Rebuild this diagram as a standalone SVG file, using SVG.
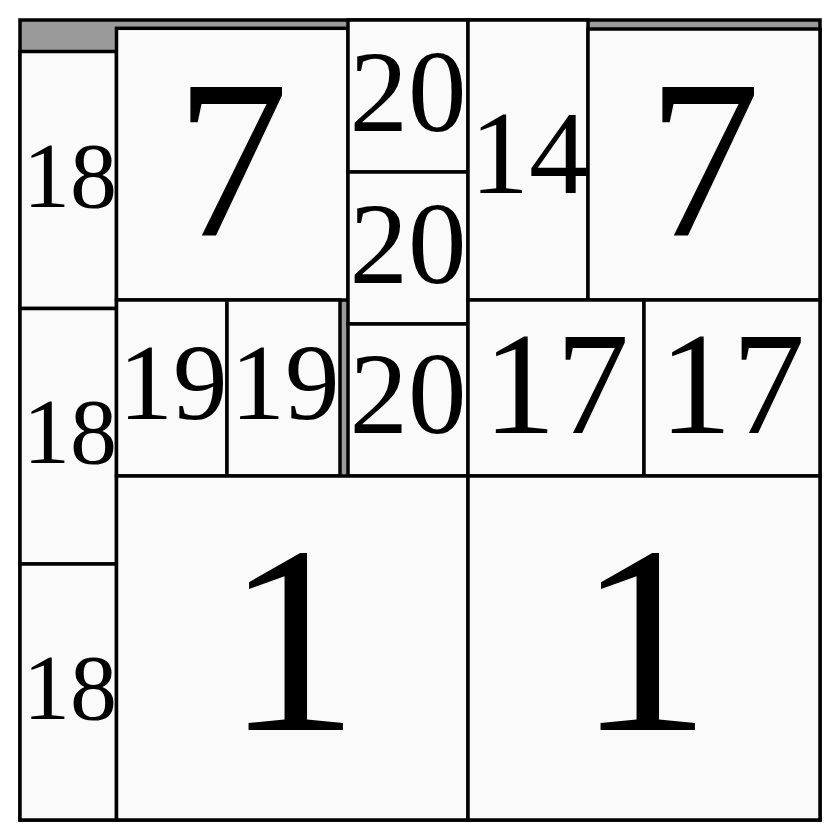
<svg xmlns="http://www.w3.org/2000/svg" width="840" height="840" viewBox="0 0 840 840">
<style>
.bg{fill:#9a9a9a;stroke:#000;stroke-width:3.5}
.cell{fill:#fafafa;stroke:#000;stroke-width:3.5}
text{font-family:"Liberation Serif","Times New Roman",serif;fill:#000;text-anchor:middle}
</style>
<rect x="0" y="0" width="840" height="840" fill="#ffffff"/>
<rect class="bg" x="20" y="20" width="800" height="800"/>
<g id="n18a"><rect class="cell" x="20" y="51.5" width="96.5" height="257"/><text x="70" y="207" font-size="94">18</text></g>
<g id="n18b"><rect class="cell" x="20" y="308.5" width="96.5" height="255.5"/><text x="70" y="463" font-size="94">18</text></g>
<g id="n18c"><rect class="cell" x="20" y="564" width="96.5" height="256"/><text x="70" y="719" font-size="94">18</text></g>
<g id="n7a"><rect class="cell" x="116.5" y="28.3" width="231.5" height="271.7"/><text x="232" y="236" font-size="226">7</text></g>
<g id="n19a"><rect class="cell" x="116.5" y="300" width="110.5" height="176"/><text x="173" y="419" font-size="109">19</text></g>
<g id="n19b"><rect class="cell" x="227" y="300" width="113" height="176"/><text x="285" y="419" font-size="109">19</text></g>
<g id="n20a"><rect class="cell" x="348" y="20" width="120" height="152"/><text x="408" y="131" font-size="117">20</text></g>
<g id="n20b"><rect class="cell" x="348" y="172" width="120" height="152"/><text x="408" y="283" font-size="117">20</text></g>
<g id="n20c"><rect class="cell" x="348" y="324" width="120" height="152"/><text x="408" y="433" font-size="117">20</text></g>
<g id="n14"><rect class="cell" x="468" y="20" width="120" height="280"/><text x="529" y="193" font-size="118">14</text></g>
<g id="n7b"><rect class="cell" x="588" y="29" width="232" height="271"/><text x="704" y="236" font-size="226">7</text></g>
<g id="n17a"><rect class="cell" x="468" y="300" width="176" height="176"/><text x="556" y="433" font-size="146">17</text></g>
<g id="n17b"><rect class="cell" x="644" y="300" width="176" height="176"/><text x="732" y="433" font-size="146">17</text></g>
<g id="n1a"><rect class="cell" x="116.5" y="476" width="351.5" height="344"/><text x="292" y="730" font-size="268">1</text></g>
<g id="n1b"><rect class="cell" x="468" y="476" width="352" height="344"/><text x="644" y="730" font-size="268">1</text></g>
<g id="connectors"></g>
</svg>
